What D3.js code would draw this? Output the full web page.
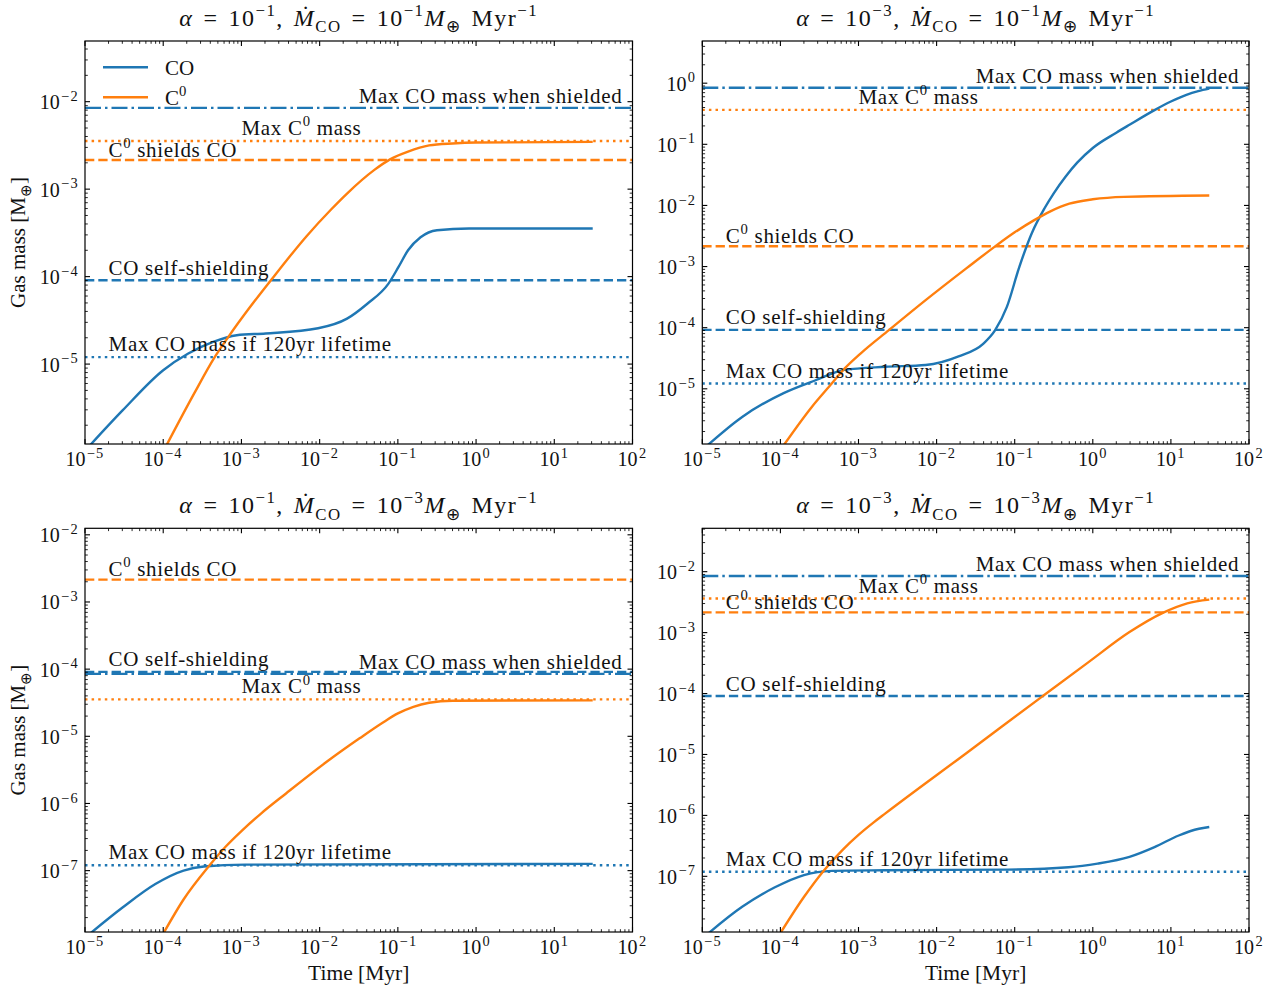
<!DOCTYPE html>
<html><head><meta charset="utf-8">
<script src="https://cdn.jsdelivr.net/npm/d3@7/dist/d3.min.js"></script>
<style>body{margin:0;background:#fff} svg{display:block} text{font-family:"Liberation Serif","Times New Roman",serif;fill:#111}</style>
</head><body><svg id="chart" width="1277" height="992"></svg>
<script>
// ---------------- DATA ----------------
const alphaExp = ["−1", "−3", "−1", "−3"];
const mdotExp  = ["−1", "−1", "−3", "−3"];
const xTickExps = [-5, -4, -3, -2, -1, 0, 1, 2];
const yTickExps = [[-5, -4, -3, -2], [-5, -4, -3, -2, -1, 0], [-7, -6, -5, -4, -3, -2], [-7, -6, -5, -4, -3, -2]];
const yLimits = [[1.22e-6, 0.0494], [1.25e-6, 4.9], [1.22e-8, 1.25e-2], [1.22e-8, 0.0515]];

// reference (horizontal) levels per panel
const shieldedMax  = [8.5e-3, 0.84, 8.5e-5, 8.5e-3];
const c0Max        = [3.55e-3, 0.366, 3.55e-5, 3.62e-3];
const c0Shields    = [2.15e-3, 2.15e-3, 2.15e-3, 2.15e-3];
const coSelfShield = [9.1e-5, 9.2e-5, 9.1e-5, 9.1e-5];
const lifetimeMax  = [1.2e-5, 1.22e-5, 1.2e-7, 1.19e-7];

// panel 1: alpha=1e-1, Mdot=1e-1
const p1CO_t = [1e-5, 3.02e-5, 1e-4, 2.09e-4, 4.27e-4, 8.71e-4, 2.04e-3, 9.55e-3, 2.24e-2, 4.07e-2, 7.59e-2, 0.102, 0.135, 0.195, 0.316, 0.813, 31];
const p1CO_m = [1.02e-6, 2.95e-6, 8.51e-6, 1.32e-5, 1.78e-5, 2.14e-5, 2.24e-5, 2.57e-5, 3.31e-5, 4.9e-5, 8.32e-5, 1.29e-4, 2.0e-4, 2.82e-4, 3.39e-4, 3.55e-4, 3.55e-4];
const p1C0_t = [1e-4, 2.51e-4, 4.47e-4, 6.92e-4, 1.26e-3, 2.34e-3, 6.76e-3, 1.41e-2, 2.24e-2, 5.01e-2, 7.94e-2, 0.135, 0.251, 0.501, 1.0, 31];
const p1C0_m = [1.0e-6, 4.68e-6, 1.17e-5, 2.09e-5, 4.37e-5, 8.91e-5, 2.88e-4, 5.89e-4, 8.91e-4, 1.66e-3, 2.19e-3, 2.69e-3, 3.16e-3, 3.33e-3, 3.41e-3, 3.47e-3];

// panel 2: alpha=1e-3, Mdot=1e-1
const p2CO_t = [1e-5, 3.24e-5, 1.10e-4, 2.82e-4, 6.61e-4, 2.19e-3, 7.24e-3, 1.91e-2, 3.98e-2, 5.62e-2, 7.94e-2, 0.115, 0.166, 0.240, 0.316, 0.447, 0.631, 1.0, 2.0, 2.95, 6.17, 10, 15.8, 22.4, 31];
const p2CO_m = [1.0e-6, 3.47e-6, 8.51e-6, 1.38e-5, 2.04e-5, 2.29e-5, 2.45e-5, 3.39e-5, 5.5e-5, 9.12e-5, 2.19e-4, 1.0e-3, 3.55e-3, 8.91e-3, 1.58e-2, 2.95e-2, 5.01e-2, 8.71e-2, 0.155, 0.209, 0.363, 0.501, 0.646, 0.741, 0.813];
const p2C0_t = [1e-4, 2.51e-4, 4.57e-4, 6.31e-4, 1.07e-3, 2.45e-3, 7.24e-3, 2.40e-2, 5.62e-2, 0.1, 0.178, 0.282, 0.501, 1.0, 2.51, 31];
const p2C0_m = [1.0e-6, 5.01e-6, 1.23e-5, 2.0e-5, 3.8e-5, 9.12e-5, 2.82e-4, 9.33e-4, 2.14e-3, 3.63e-3, 5.75e-3, 7.94e-3, 1.07e-2, 1.26e-2, 1.38e-2, 1.45e-2];

// panel 3: alpha=1e-1, Mdot=1e-3
const p3CO_t = [1e-5, 3.02e-5, 7.94e-5, 1.82e-4, 3.31e-4, 1.12e-3, 31];
const p3CO_m = [1.0e-8, 2.82e-8, 6.31e-8, 1.0e-7, 1.15e-7, 1.23e-7, 1.26e-7];
const p3C0_t = [1e-4, 1.82e-4, 3.80e-4, 6.31e-4, 1.0e-3, 1.78e-3, 3.72e-3, 1.23e-2, 3.24e-2, 6.31e-2, 0.1, 0.158, 0.251, 0.501, 31];
const p3C0_m = [1.15e-8, 3.72e-8, 1.15e-7, 2.29e-7, 3.89e-7, 7.08e-7, 1.41e-6, 4.17e-6, 9.33e-6, 1.58e-5, 2.19e-5, 2.75e-5, 3.16e-5, 3.39e-5, 3.43e-5];

// panel 4: alpha=1e-3, Mdot=1e-3
const p4CO_t = [1e-5, 3.24e-5, 8.51e-5, 2.0e-4, 4.57e-4, 2.19e-3, 8.13e-2, 0.490, 1.15, 2.95, 6.17, 12.6, 22.9, 31];
const p4CO_m = [9.55e-9, 3.16e-8, 6.61e-8, 1.05e-7, 1.23e-7, 1.26e-7, 1.29e-7, 1.41e-7, 1.62e-7, 2.09e-7, 3.02e-7, 4.68e-7, 6.03e-7, 6.46e-7];
const p4C0_t = [1e-4, 2.0e-4, 3.63e-4, 6.31e-4, 1.0e-3, 1.58e-3, 2.19e-3, 2.40e-2, 0.224, 0.891, 2.95, 7.76, 16.2, 31];
const p4C0_m = [1.17e-8, 4.57e-8, 1.26e-7, 2.75e-7, 4.79e-7, 7.76e-7, 1.07e-6, 1.05e-5, 8.91e-5, 3.31e-4, 1.02e-3, 2.09e-3, 3.02e-3, 3.47e-3];

const seriesCO_t = [p1CO_t, p2CO_t, p3CO_t, p4CO_t];
const seriesCO_m = [p1CO_m, p2CO_m, p3CO_m, p4CO_m];
const seriesC0_t = [p1C0_t, p2C0_t, p3C0_t, p4C0_t];
const seriesC0_m = [p1C0_m, p2C0_m, p3C0_m, p4C0_m];

// ---------------- LAYOUT / STYLE ----------------
const BLUE = "#1f77b4", ORANGE = "#ff7f0e";
const panels = [
  {x0: 85, x1: 632.5, y0: 41, y1: 444, ylab: true, xlab: false},
  {x0: 702.3, x1: 1249, y0: 41, y1: 444, ylab: false, xlab: false},
  {x0: 85, x1: 632.5, y0: 528.3, y1: 932, ylab: true, xlab: true},
  {x0: 702.3, x1: 1249, y0: 528.3, y1: 932, ylab: false, xlab: true}
];
const LW = 2.4;
const DASH = {dashdot: "16,4,2.5,4", dashed: "9.3,4", dotted: "2.5,4.1"};

const svg = d3.select("#chart");
const defs = svg.append("defs");

function rich(textSel, parts, fs, supScale, supSpacing) {
  const sc = supScale || 0.7;
  let shift = 0;
  parts.forEach(p => {
    const target = p.sup ? -0.42 * fs : (p.sub ? 0.27 * fs : 0);
    const ts = textSel.append("tspan").text(p.t);
    if (target - shift !== 0) ts.attr("dy", target - shift);
    shift = target;
    if (p.sup || p.sub) ts.attr("font-size", fs * sc);
    if (p.sup && supSpacing) ts.attr("letter-spacing", supSpacing).attr("dx", supSpacing);
    if (p.it) ts.attr("font-style", "italic");
  });
  return textSel;
}

panels.forEach((P, i) => {
  const g = svg.append("g");
  const x = d3.scaleLog().domain([1e-5, 1e2]).range([P.x0, P.x1]);
  const y = d3.scaleLog().domain(yLimits[i]).range([P.y1, P.y0]);

  defs.append("clipPath").attr("id", "clip" + i).append("rect")
    .attr("x", P.x0).attr("y", P.y0).attr("width", P.x1 - P.x0).attr("height", P.y1 - P.y0);

  // horizontal reference lines
  const refs = [
    {v: shieldedMax[i], c: BLUE, d: DASH.dashdot, label: [{t: "Max CO mass when shielded"}], lx: 3.16e-2, off: 5},
    {v: c0Max[i], c: ORANGE, d: DASH.dotted, label: [{t: "Max C"}, {t: "0", sup: true}, {t: " mass"}], lx: 1e-3, off: 6},
    {v: c0Shields[i], c: ORANGE, d: DASH.dashed, label: [{t: "C"}, {t: "0", sup: true}, {t: " shields CO"}], lx: 2e-5, off: 3.5},
    {v: coSelfShield[i], c: BLUE, d: DASH.dashed, label: [{t: "CO self-shielding"}], lx: 2e-5, off: 5.5},
    {v: lifetimeMax[i], c: BLUE, d: DASH.dotted, label: [{t: "Max CO mass if 120yr lifetime"}], lx: 2e-5, off: 6}
  ];
  const gl = g.append("g").attr("clip-path", `url(#clip${i})`);
  [2, 3, 4, 0, 1].forEach(k => {
    const r = refs[k];
    gl.append("line").attr("x1", P.x0).attr("x2", P.x1)
      .attr("y1", y(r.v)).attr("y2", y(r.v))
      .attr("stroke", r.c).attr("stroke-width", LW).attr("stroke-dasharray", r.d);
  });

  // curves
  const line = d3.line().x(d => x(d[0])).y(d => y(d[1])).curve(d3.curveMonotoneX);
  const co = seriesCO_t[i].map((t, j) => [t, seriesCO_m[i][j]]);
  const c0 = seriesC0_t[i].map((t, j) => [t, seriesC0_m[i][j]]);
  gl.append("path").attr("d", line(co)).attr("fill", "none").attr("stroke", BLUE).attr("stroke-width", LW);
  gl.append("path").attr("d", line(c0)).attr("fill", "none").attr("stroke", ORANGE).attr("stroke-width", LW);

  // reference labels
  refs.forEach(r => {
    const t = g.append("text").attr("x", x(r.lx)).attr("y", y(r.v) - r.off)
      .attr("font-size", 21).attr("letter-spacing", 0.7);
    rich(t, r.label, 21);
  });

  // frame
  g.append("rect").attr("x", P.x0).attr("y", P.y0).attr("width", P.x1 - P.x0).attr("height", P.y1 - P.y0)
    .attr("fill", "none").attr("stroke", "#000").attr("stroke-width", 1.2);

  // ticks
  const tk = g.append("g").attr("stroke", "#000");
  const MAJ = 5, MIN = 2.8;
  xTickExps.forEach(e => {
    const base = Math.pow(10, e);
    const px = x(base);
    tk.append("line").attr("x1", px).attr("x2", px).attr("y1", P.y1).attr("y2", P.y1 - MAJ).attr("stroke-width", 1.1);
    tk.append("line").attr("x1", px).attr("x2", px).attr("y1", P.y0).attr("y2", P.y0 + MAJ).attr("stroke-width", 1.1);
    if (e < 2) for (let m = 2; m <= 9; m++) {
      const mx = x(base * m);
      tk.append("line").attr("x1", mx).attr("x2", mx).attr("y1", P.y1).attr("y2", P.y1 - MIN).attr("stroke-width", 0.85);
      tk.append("line").attr("x1", mx).attr("x2", mx).attr("y1", P.y0).attr("y2", P.y0 + MIN).attr("stroke-width", 0.85);
    }
    const lab = g.append("text").attr("x", px).attr("y", P.y1 + 22).attr("text-anchor", "middle").attr("font-size", 20);
    rich(lab, [{t: "10"}, {t: e < 0 ? "−" + (-e) : String(e), sup: true}], 20, 0.72, 1.3);
  });
  const [ylo, yhi] = yLimits[i];
  for (let e = Math.floor(Math.log10(ylo)); e <= Math.ceil(Math.log10(yhi)); e++) {
    for (let m = 1; m <= 9; m++) {
      const v = m * Math.pow(10, e);
      if (v < ylo || v > yhi) continue;
      const py = y(v);
      const L = m === 1 ? MAJ : MIN, w = m === 1 ? 1.1 : 0.85;
      tk.append("line").attr("x1", P.x0).attr("x2", P.x0 + L).attr("y1", py).attr("y2", py).attr("stroke-width", w);
      tk.append("line").attr("x1", P.x1).attr("x2", P.x1 - L).attr("y1", py).attr("y2", py).attr("stroke-width", w);
    }
  }
  yTickExps[i].forEach(e => {
    const lab = g.append("text").attr("x", P.x0 - 6).attr("y", y(Math.pow(10, e)) + 7.5)
      .attr("text-anchor", "end").attr("font-size", 20);
    rich(lab, [{t: "10"}, {t: e < 0 ? "−" + (-e) : String(e), sup: true}], 20, 0.72, 1.3);
  });

  // title
  const cx = (P.x0 + P.x1) / 2;
  const title = g.append("text").attr("x", cx).attr("y", P.y0 - 15).attr("text-anchor", "middle")
    .attr("font-size", 24).attr("letter-spacing", 1.5).attr("word-spacing", 2.5);
  rich(title, [
    {t: "α", it: true}, {t: " = 10"}, {t: alphaExp[i], sup: true}, {t: ", "},
    {t: "Ṁ", it: true}, {t: "CO", sub: true}, {t: " = 10"}, {t: mdotExp[i], sup: true},
    {t: "M", it: true}, {t: "⊕", sub: true}, {t: " Myr"}, {t: "−1", sup: true}
  ], 24);

  if (P.ylab) {
    const yl = g.append("text").attr("transform", `translate(25,${(P.y0 + P.y1) / 2}) rotate(-90)`)
      .attr("text-anchor", "middle").attr("font-size", 21);
    rich(yl, [{t: "Gas mass [M"}, {t: "⊕", sub: true}, {t: "]"}], 21);
  }
  if (P.xlab) {
    g.append("text").attr("x", cx).attr("y", 980).attr("text-anchor", "middle").attr("font-size", 21.5).text("Time [Myr]");
  }

  // legend (first panel only)
  if (i === 0) {
    const items = [{c: BLUE, parts: [{t: "CO"}], yy: 67.3}, {c: ORANGE, parts: [{t: "C"}, {t: "0", sup: true}], yy: 97.3}];
    items.forEach(it => {
      g.append("line").attr("x1", 103).attr("x2", 148).attr("y1", it.yy).attr("y2", it.yy)
        .attr("stroke", it.c).attr("stroke-width", LW);
      const t = g.append("text").attr("x", 165).attr("y", it.yy + 7.5).attr("font-size", 21);
      rich(t, it.parts, 21);
    });
  }
});
</script></body></html>
